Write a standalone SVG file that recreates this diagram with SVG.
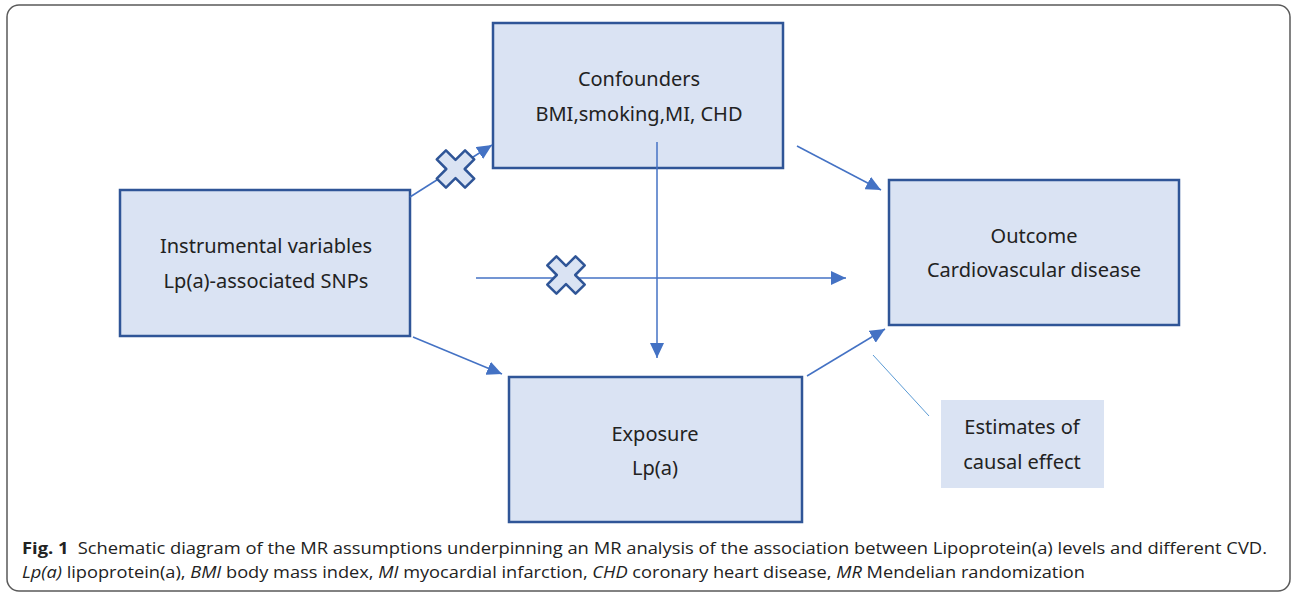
<svg xmlns="http://www.w3.org/2000/svg" width="1292" height="594" viewBox="0 0 1292 594">
<style>
.box{fill:#dae3f3;stroke:#2f5597;stroke-width:2.5}
.lbl{font-family:"Noto Sans","Open Sans",sans-serif;font-size:20px;fill:#222;text-anchor:middle}
.con{stroke:#4472c4;stroke-width:1.5;fill:none}
.cap{font-family:"Open Sans","Noto Sans",sans-serif;font-size:16px;fill:#222}
.xm{fill:#dae3f3;stroke:#2f5597;stroke-width:2.5;stroke-linejoin:round}
</style>
<defs>
<marker id="ah" markerUnits="userSpaceOnUse" markerWidth="16" markerHeight="14" refX="15" refY="7" orient="auto">
<path d="M0,0 L15,7 L0,14 Z" fill="#4472c4"/>
</marker>
<polygon id="xshape" points="-6.5,-20 6.5,-20 6.5,-6.5 20,-6.5 20,6.5 6.5,6.5 6.5,20 -6.5,20 -6.5,6.5 -20,6.5 -20,-6.5 -6.5,-6.5" transform="rotate(45)"/>
</defs>
<rect x="7" y="5" width="1283" height="586" rx="12" fill="#fff" stroke="#5a5a5a" stroke-width="1.5"/>
<g id="confounders">
<rect class="box" x="493" y="23" width="290" height="145"/>
<text class="lbl" x="639" y="86">Confounders</text>
<text class="lbl" x="639" y="121">BMI,smoking,MI, CHD</text>
</g>
<g id="instrument">
<rect class="box" x="120" y="190" width="290" height="146"/>
<text class="lbl" x="266" y="253">Instrumental variables</text>
<text class="lbl" x="266" y="288">Lp(a)-associated SNPs</text>
</g>
<g id="outcome">
<rect class="box" x="889" y="180" width="290" height="145"/>
<text class="lbl" x="1034" y="243">Outcome</text>
<text class="lbl" x="1034" y="277">Cardiovascular disease</text>
</g>
<g id="exposure">
<rect class="box" x="509" y="377" width="293" height="145"/>
<text class="lbl" x="655" y="441">Exposure</text>
<text class="lbl" x="655" y="475">Lp(a)</text>
</g>
<g id="estimates">
<rect x="941" y="400" width="163" height="88" fill="#dae3f3"/>
<text class="lbl" x="1022" y="434">Estimates of</text>
<text class="lbl" x="1022" y="469">causal effect</text>
</g>
<g id="connectors">
<line class="con" x1="410" y1="197" x2="492" y2="145" marker-end="url(#ah)"/>
<line class="con" x1="476" y1="278" x2="846" y2="278" marker-end="url(#ah)"/>
<line class="con" x1="797" y1="146" x2="881" y2="190" marker-end="url(#ah)"/>
<line class="con" x1="657" y1="142" x2="657" y2="358" marker-end="url(#ah)"/>
<line class="con" x1="413" y1="337" x2="502" y2="374" marker-end="url(#ah)"/>
<line class="con" x1="807" y1="376" x2="885" y2="329" marker-end="url(#ah)"/>
<line x1="873" y1="355" x2="929" y2="416" stroke="#5b9bd5" stroke-width="1"/>
<g id="cross1" transform="translate(455.5,169)"><use href="#xshape" class="xm"/></g>
<g id="cross2" transform="translate(566,275)"><use href="#xshape" class="xm"/></g>
</g>
<g id="caption">
<text class="cap" x="22" y="554" textLength="1245" lengthAdjust="spacingAndGlyphs"><tspan font-weight="bold">Fig. 1</tspan><tspan dx="8">Schematic diagram of the MR assumptions underpinning an MR analysis of the association between Lipoprotein(a) levels and different CVD.</tspan></text>
<text class="cap" x="22" y="578" textLength="1063" lengthAdjust="spacingAndGlyphs"><tspan font-style="italic">Lp(a)</tspan> lipoprotein(a), <tspan font-style="italic">BMI</tspan> body mass index, <tspan font-style="italic">MI</tspan> myocardial infarction, <tspan font-style="italic">CHD</tspan> coronary heart disease, <tspan font-style="italic">MR</tspan> Mendelian randomization</text>
</g>
</svg>
